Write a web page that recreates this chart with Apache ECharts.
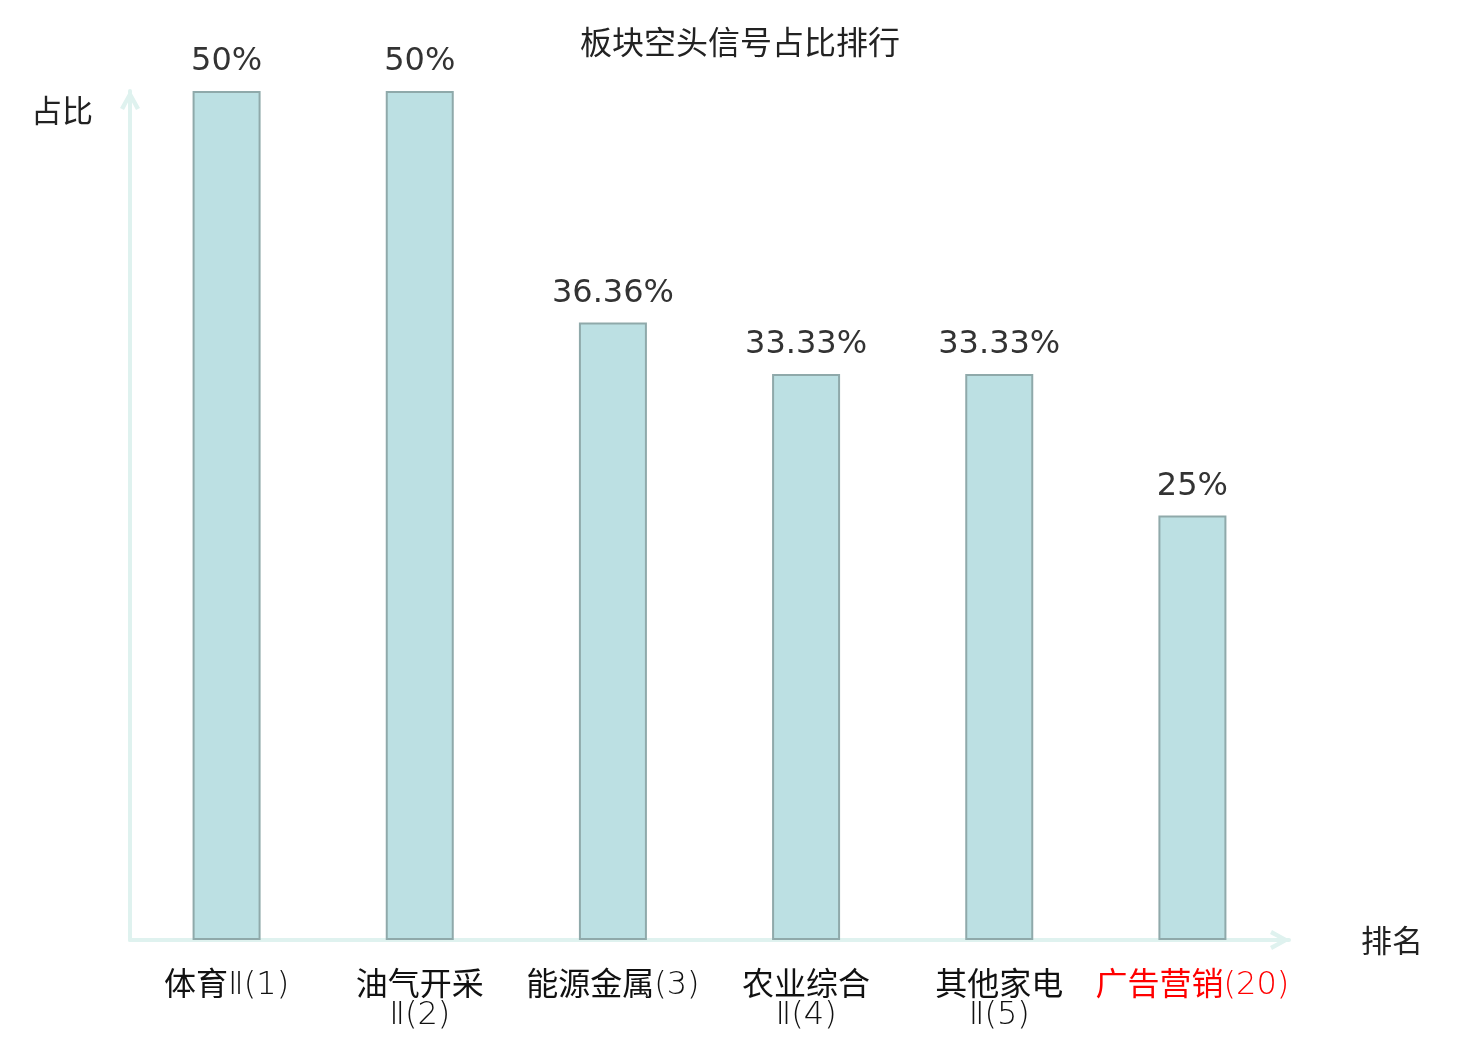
<!DOCTYPE html>
<html>
<head>
<meta charset="utf-8">
<script src="https://cdn.jsdelivr.net/npm/echarts@6/dist/echarts.min.js"></script>
<style>
  html, body { margin: 0; padding: 0; background: #fff; }
  #chart { width: 1480px; height: 1040px; }
</style>
</head>
<body>
<div id="chart"></div>
<script>
var categories = ['体育Ⅱ(1)', '油气开采\nⅡ(2)', '能源金属(3)', '农业综合\nⅡ(4)', '其他家电\nⅡ(5)', '广告营销(20)'];
var ratios = [50, 50, 36.36, 33.33, 33.33, 25];
var highlightName = '广告营销(20)';

var FONT = 'DejaVu Sans, Noto Sans CJK SC, sans-serif';
var CJK = 'Noto Sans CJK SC, sans-serif';
// open chevron used as axis arrow
var chevron = 'path://M0,18 L10,0 L20,18 L16,20 L10,8.5 L4,20 Z';

// CJK part in regular weight, the "Ⅱ(n)" tail in a light latin face
function splitLabel(text) {
  return text.split('\n').map(function (line) {
    var m = line.match(/^([^Ⅱ(]*)(.*)$/);
    var out = '';
    if (m[1]) out += '{c|' + m[1] + '}';
    if (m[2]) out += '{n|' + m[2] + '}';
    return out;
  }).join('\n');
}

var chart = echarts.init(document.getElementById('chart'));

var option = {
  title: {
    text: '板块空头信号占比排行',
    left: 'center',
    top: 21,
    textStyle: { fontFamily: CJK, fontSize: 32, fontWeight: 'normal', color: '#222' }
  },
  grid: { left: 130, right: 191, top: 91, bottom: 100 },
  xAxis: {
    type: 'category',
    data: categories.map(function (c) {
      return c === highlightName ? { value: c, textStyle: { color: 'red' } } : c;
    }),
    name: '排名',
    nameLocation: 'end',
    nameGap: 72,
    nameTextStyle: { fontFamily: CJK, fontSize: 31, color: '#222' },
    axisLine: {
      lineStyle: { color: '#dff2ef', width: 4 },
      symbol: ['none', chevron],
      symbolSize: [22, 20],
      symbolOffset: [0, -9]
    },
    axisTick: { show: false },
    axisLabel: {
      interval: 0,
      margin: 26,
      fontSize: 32,
      lineHeight: 33,
      color: '#111',
      formatter: splitLabel,
      rich: {
        c: { fontFamily: CJK, fontWeight: 'normal', fontSize: 32, lineHeight: 33 },
        n: { fontFamily: 'DejaVu Sans, sans-serif', fontWeight: 200, fontSize: 32, lineHeight: 26, padding: [7, 0, 0, 0] }
      }
    }
  },
  yAxis: {
    type: 'value',
    min: 0,
    max: 50,
    name: '占比',
    nameLocation: 'end',
    nameGap: -19,
    nameTextStyle: {
      fontFamily: CJK, fontSize: 31, color: '#222',
      align: 'right', verticalAlign: 'middle', padding: [0, 37, 0, 0]
    },
    axisLine: {
      show: true,
      lineStyle: { color: '#dff2ef', width: 4 },
      symbol: ['none', chevron],
      symbolSize: [22, 20],
      symbolOffset: [0, -9]
    },
    axisTick: { show: false },
    axisLabel: { show: false },
    splitLine: { show: false }
  },
  series: [{
    type: 'bar',
    data: ratios,
    barWidth: 68,
    itemStyle: { color: '#bce0e3', borderColor: '#8fa9aa', borderWidth: 2 },
    label: {
      show: true,
      position: 'top',
      distance: 13,
      fontFamily: FONT,
      fontSize: 32,
      color: '#333',
      formatter: function (p) { return p.value + '%'; }
    }
  }]
};

chart.setOption(option);
</script>
</body>
</html>
